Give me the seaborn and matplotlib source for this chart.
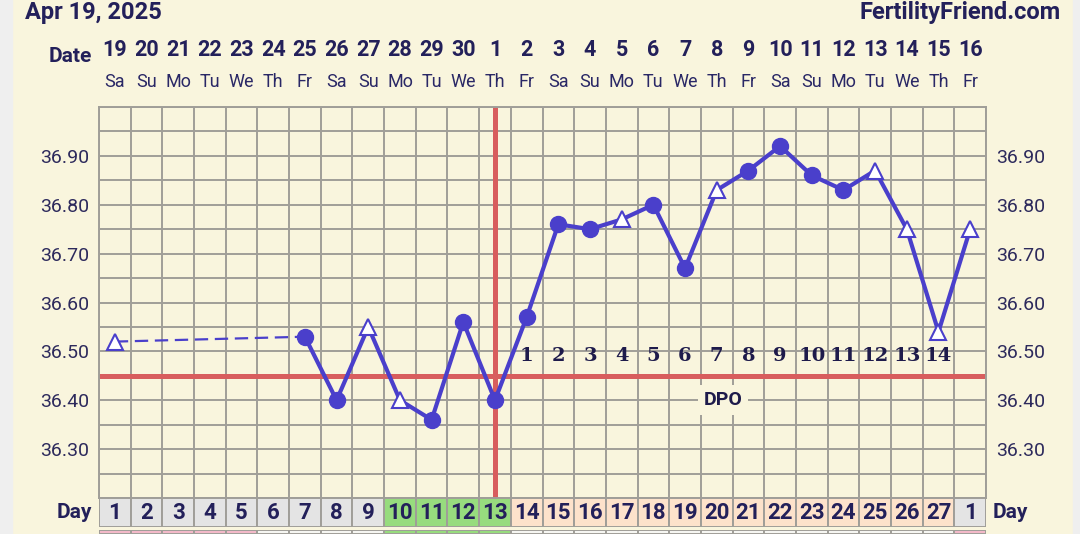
import numpy as np
import pandas as pd
import seaborn as sns
import matplotlib.pyplot as plt
from matplotlib.patches import Rectangle
from matplotlib.transforms import blended_transform_factory

# chart data
dates = [19, 20, 21, 22, 23, 24, 25, 26, 27, 28, 29, 30, 1, 2, 3, 4, 5, 6, 7, 8,
         9, 10, 11, 12, 13, 14, 15, 16]
weekdays = ["Sa", "Su", "Mo", "Tu", "We", "Th", "Fr"] * 4
cycle_days = list(range(1, 28)) + [1]
temps = [36.52, np.nan, np.nan, np.nan, np.nan, np.nan, 36.53, 36.40, 36.55, 36.40,
         36.36, 36.56, 36.40, 36.57, 36.76, 36.75, 36.77, 36.80, 36.67, 36.83,
         36.87, 36.92, 36.86, 36.83, 36.87, 36.75, 36.54, 36.75]
open_days = [1, 9, 10, 17, 20, 25, 26, 27, 28]
dpo_labels = [str(i) for i in range(1, 15)]
dpo_days = list(range(14, 28))
ovulation_day = 13
coverline = 36.45
day_colors = ["#e4e4e4"] * 9 + ["#97dc7e"] * 4 + ["#fde2cb"] * 14 + ["#e4e4e4"]
strip_colors = ["#f3b9c9"] * 5 + ["#f6f6f2"] * 4 + ["#97dc7e"] * 4 + ["#f6f6f2"] * 14 + ["#f3b9c9"]

BG = "#f9f5dd"
NAVY = "#23205a"
BLUE = "#4a3fcb"
RED = "#d85e5e"
GRID = "#a09e98"

sns.set_theme(style="white")
plt.rcParams["font.family"] = ["Roboto", "DejaVu Sans"]

df = pd.DataFrame({"day": range(1, 29), "temp": temps})
df["open"] = df["day"].isin(open_days)

fig = plt.figure(figsize=(10.8, 5.34), dpi=100)
fig.patch.set_facecolor(BG)
fig.patches.append(Rectangle((0, 0), 12 / 1080, 1, transform=fig.transFigure,
                             color="#efefef", zorder=0))
fig.patches.append(Rectangle((1073 / 1080, 0), 7 / 1080, 1, transform=fig.transFigure,
                             color="#efefef", zorder=0))

W = 1080
H = 534
ax = fig.add_axes([99 / W, 36 / H, 887 / W, 391 / H])
ax.set_facecolor(BG)
ax.set_xlim(0.5, 28.5)
ax.set_ylim(36.20, 37.00)

# grid
ax.set_xticks(np.arange(0.5, 28.6, 1))
ax.set_yticks(np.round(np.arange(36.20, 37.001, 0.05), 2))
ax.yaxis.set_major_formatter(
    plt.FuncFormatter(lambda v, p: f"{v:.2f}" if (round(v * 100) % 10 == 0 and 36.25 < v < 36.95) else ""))
ax.grid(True, color=GRID, lw=1.4)
ax.tick_params(axis="x", length=0, labelbottom=False)
ax.tick_params(axis="y", length=0, labelsize=14, labelcolor="#2d2a5c",
               labelleft=True, labelright=True, pad=7)
for s in ax.spines.values():
    s.set_color(GRID)
    s.set_linewidth(1.4)

# coverline and ovulation line
ax.axhline(coverline, color=RED, lw=3.6, zorder=2)
ax.axvline(ovulation_day, color=RED, lw=3.6, zorder=2)

# temperatures
first = df.iloc[[0, 6]]
ax.plot(first["day"], first["temp"], color=BLUE, lw=1.6, ls=(0, (6, 3)), zorder=3)
main = df[df["day"] >= 7]
sns.lineplot(data=main, x="day", y="temp", ax=ax, color=BLUE, lw=3, zorder=3)
filled = df[~df["open"]].dropna()
opened = df[df["open"]].dropna()
ax.plot(filled["day"], filled["temp"], "o", ms=11.5, color=BLUE, zorder=4)
ax.plot(opened["day"], opened["temp"], "^", ms=11.5, mfc="white", mec=BLUE,
        mew=1.5, zorder=4)
ax.set_xlabel("")
ax.set_ylabel("")

# DPO
for d, lab in zip(dpo_days, dpo_labels):
    ax.text(d, 36.49, lab, ha="center", va="center", fontsize=14,
            fontweight="bold", color="#1e1b4b", family="DejaVu Serif", zorder=5)
ax.text(20.2, 36.40, "DPO", ha="center", va="center", fontsize=14,
        fontweight="bold", color="#1e1b4b", zorder=5,
        bbox=dict(boxstyle="square,pad=0.3", fc=BG, ec="none"))

# header dates
tr = blended_transform_factory(ax.transData, fig.transFigure)
for d, (num, wd) in enumerate(zip(dates, weekdays), start=1):
    ax.text(d, (H - 50) / H, str(num), transform=tr, ha="center", va="center",
            fontsize=15.5, fontweight="bold", color=NAVY)
    ax.text(d, (H - 82) / H, wd, transform=tr, ha="center", va="center",
            fontsize=13, color="#2a2866")
fig.text(92 / W, (H - 57) / H, "Date", ha="right", va="center", fontsize=15,
         fontweight="bold", color=NAVY)
fig.text(25 / W, (H - 13) / H, "Apr 19, 2025", ha="left", va="center",
         fontsize=17, fontweight="bold", color=NAVY)
fig.text(1061 / W, (H - 12) / H, "FertilityFriend.com", ha="right", va="center",
         fontsize=17, fontweight="bold", color=NAVY)

# cycle day row
dax = fig.add_axes([99 / W, 7 / H, 887 / W, 29 / H])
dax.bar(range(1, 29), [1] * 28, width=1, color=day_colors, edgecolor=GRID, lw=1.4)
dax.set_xlim(0.5, 28.5)
dax.set_ylim(0, 1)
dax.axis("off")
for d, cd in enumerate(cycle_days, start=1):
    dax.text(d, 0.48, str(cd), ha="center", va="center", fontsize=16,
             fontweight="bold", color=NAVY)
fig.text(92 / W, (H - 512) / H, "Day", ha="right", va="center", fontsize=15,
         fontweight="bold", color=NAVY)
fig.text(993 / W, (H - 512) / H, "Day", ha="left", va="center", fontsize=15,
         fontweight="bold", color=NAVY)

sax = fig.add_axes([99 / W, 0, 887 / W, 4 / H])
sax.bar(range(1, 29), [1] * 28, width=1, color=strip_colors, edgecolor=GRID, lw=1.4)
sax.set_xlim(0.5, 28.5)
sax.set_ylim(0, 1)
sax.axis("off")

fig.savefig("out.png", dpi=100, facecolor=fig.get_facecolor())
